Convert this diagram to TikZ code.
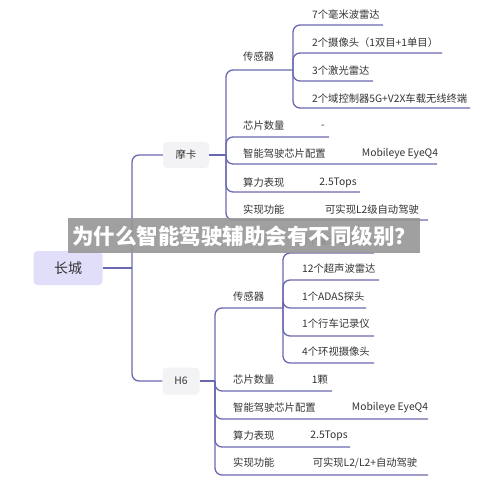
\documentclass[tikz,border=0pt]{standalone}
\usepackage{fontspec}
\setmainfont{Noto Sans CJK SC}
\usetikzlibrary{positioning}
\definecolor{branchc}{RGB}{106,104,176}
\definecolor{rootfill}{RGB}{225,222,250}
\definecolor{carfill}{RGB}{243,243,245}
\definecolor{textc}{RGB}{51,51,51}
\definecolor{bannerc}{RGB}{150,150,150}
\begin{document}
\begin{tikzpicture}[
    x=1pt, y=-1pt,
    every node/.style={font=\fontsize{10.3}{12}\selectfont, text=textc},
    box/.style={
        rounded corners=4pt,
        align=center,
        inner sep=0pt
    },
    item/.style={anchor=west, inner sep=0pt},
    value/.style={inner sep=0pt},
    branch/.style={draw=branchc, line width=1.3pt, rounded corners=7pt}
]
    \useasboundingbox (0,0) rectangle (500,476);

    % root and cars
    \node[box, fill=rootfill, minimum width=69pt, minimum height=34pt,
        font=\fontsize{14}{16}\selectfont] (gw) at (68,268) {长城};
    \node[box, fill=carfill, minimum width=46pt, minimum height=26pt] (moka) at (186,155) {摩卡};
    \node[box, fill=carfill, minimum width=37pt, minimum height=27pt] (h6) at (181,381) {H6};

    \coordinate (gwj) at (132,268);
    \draw[branch] (gw.east) -- (gwj);
    \draw[branch] (gwj) |- (moka.west);
    \draw[branch] (gwj) |- (h6.west);

    % Moka
    \coordinate (mkj) at (226,155);
    \draw[branch] (moka.east) -- (mkj);

    \node[item] (mkSens) at (243,57) {传感器};
    \node[item] (mkChip) at (243,126) {芯片数量};
    \node[item] (mkSoc) at (243,154) {智能驾驶芯片配置};
    \node[item] (mkPerf) at (243,183) {算力表现};
    \node[item] (mkFunc) at (243,210) {实现功能};
    \coordinate (mkSensEnd) at (293,70);
    \coordinate (mkChipEnd) at (329,137);
    \coordinate (mkSocEnd) at (437,164);
    \coordinate (mkPerfEnd) at (360,192);
    \coordinate (mkFuncEnd) at (428,220);
    \foreach \e in {mkSensEnd,mkChipEnd,mkSocEnd,mkPerfEnd,mkFuncEnd}
        \draw[branch] (mkj) |- (\e);

    \node[value] (mkChipV) at (323,127) {-};
    \node[value] (mkSocV) at (400,154) {Mobileye EyeQ4};
    \node[value] (mkPerfV) at (338,183) {2.5Tops};
    \node[value] (mkFuncV) at (372,210) {可实现L2级自动驾驶};

    % Moka sensors
    \node[item] (mkS1) at (312,15) {7个毫米波雷达};
    \node[item] (mkS2) at (312,43) {2个摄像头（1双目+1单目）};
    \node[item] (mkS3) at (312,71) {3个激光雷达};
    \node[item] (mkS4) at (312,99) {2个域控制器5G+V2X车载无线终端};
    \coordinate (mkS1End) at (383,25);
    \coordinate (mkS2End) at (442,53);
    \coordinate (mkS3End) at (373,81);
    \coordinate (mkS4End) at (470,108);
    \foreach \e in {mkS1End,mkS2End,mkS3End,mkS4End}
        \draw[branch] (mkSensEnd) |- (\e);

    % H6
    \coordinate (hj) at (215,381);
    \draw[branch] (h6.east) -- (hj);

    \node[item] (hSens) at (233,297) {传感器};
    \node[item] (hChip) at (233,380) {芯片数量};
    \node[item] (hSoc) at (233,408) {智能驾驶芯片配置};
    \node[item] (hPerf) at (233,436) {算力表现};
    \node[item] (hFunc) at (233,463) {实现功能};
    \coordinate (hSensEnd) at (283,308);
    \coordinate (hChipEnd) at (332,391);
    \coordinate (hSocEnd) at (428,419);
    \coordinate (hPerfEnd) at (350,447);
    \coordinate (hFuncEnd) at (428,475);
    \foreach \e in {hSensEnd,hChipEnd,hSocEnd,hPerfEnd,hFuncEnd}
        \draw[branch] (hj) |- (\e);

    \node[value] (hChipV) at (320,380) {1颗};
    \node[value] (hSocV) at (390,408) {Mobileye EyeQ4};
    \node[value] (hPerfV) at (329,436) {2.5Tops};
    \node[value] (hFuncV) at (365,463) {可实现L2/L2+自动驾驶};

    % H6 sensors
    \node[item] (hS1) at (302,241) {2个毫米波雷达};
    \node[item] (hS2) at (302,269) {12个超声波雷达};
    \node[item] (hS3) at (302,297) {1个ADAS探头};
    \node[item] (hS4) at (302,324) {1个行车记录仪};
    \node[item] (hS5) at (302,352) {4个环视摄像头};
    \coordinate (hS1End) at (374,253);
    \coordinate (hS2End) at (379,280);
    \coordinate (hS3End) at (366,308);
    \coordinate (hS4End) at (374,336);
    \coordinate (hS5End) at (374,363);
    \foreach \e in {hS1End,hS2End,hS3End,hS4End,hS5End}
        \draw[branch] (hSensEnd) |- (\e);

    % title banner
    \fill[bannerc, opacity=0.9] (68,218) rectangle (420,253);
    \node[text=white, font=\fontsize{21.5}{24}\selectfont\bfseries] (title) at (244,236)
        {为什么智能驾驶辅助会有不同级别？};

\end{tikzpicture}
\end{document}
